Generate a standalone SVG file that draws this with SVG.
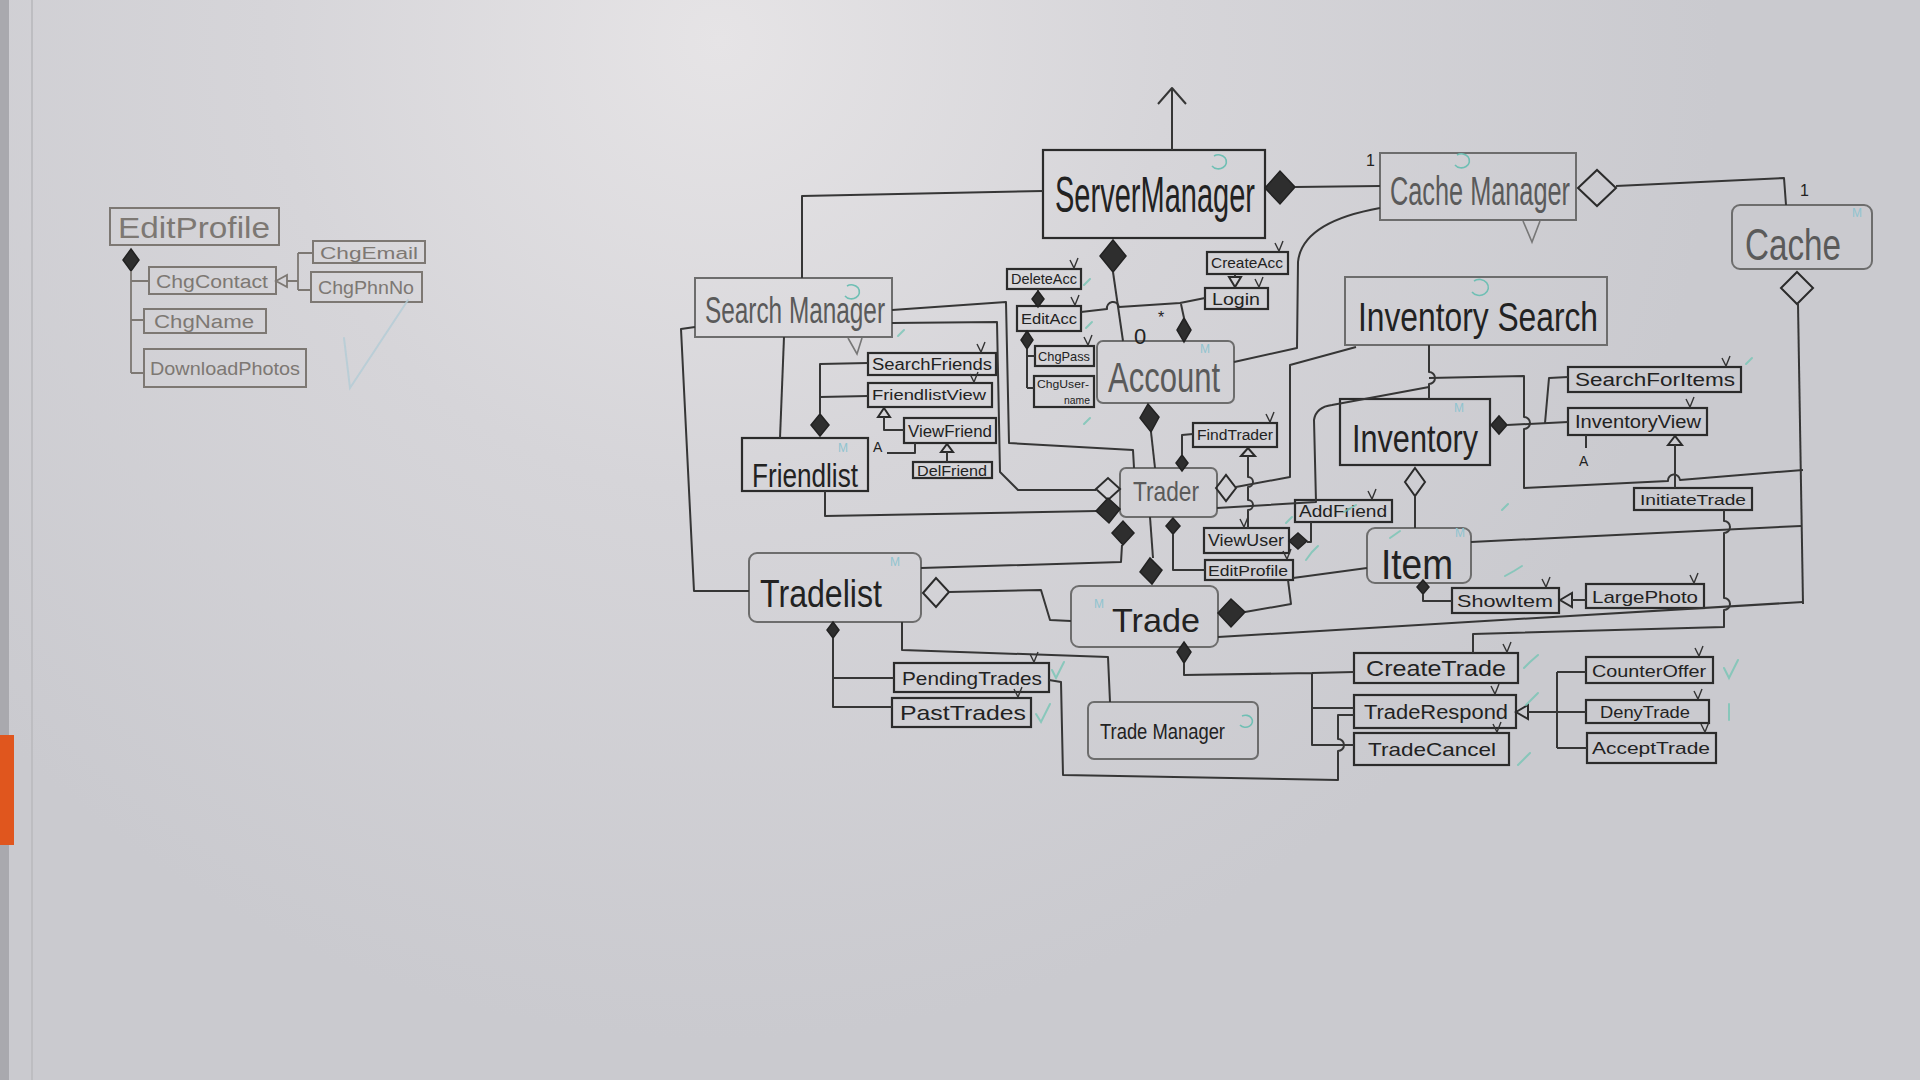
<svg xmlns="http://www.w3.org/2000/svg" width="1920" height="1080" viewBox="0 0 1920 1080">
<defs>
<radialGradient id="glow" cx="720" cy="40" r="1000" gradientUnits="userSpaceOnUse">
<stop offset="0" stop-color="#e6e4e6"/>
<stop offset="0.45" stop-color="#d6d5d9"/>
<stop offset="1" stop-color="#cacacf"/>
</radialGradient>
<style>
.b{fill:none;stroke:#2b2b2b;stroke-width:2.2}
.bg{fill:none;stroke:#6d6d6d;stroke-width:2}
.bl{fill:none;stroke:#7d7873;stroke-width:2}
.c{fill:none;stroke:#363636;stroke-width:2;stroke-linejoin:round}
.cl{fill:none;stroke:#7d7873;stroke-width:1.8}
.cg{fill:none;stroke:#777;stroke-width:1.6}
.fd{fill:#2e2e2e;stroke:#222;stroke-width:1.5}
.hd{fill:none;stroke:#2b2b2b;stroke-width:2}
.t{font-family:"Liberation Sans",Arial,sans-serif;fill:#222}
.tg{font-family:"Liberation Sans",Arial,sans-serif;fill:#5a5a5a}
.tl{font-family:"Liberation Sans",Arial,sans-serif;fill:#7d7873}
.m{font-family:"Liberation Sans",Arial,sans-serif;fill:#8fc4d0;font-size:12px}
.teal{fill:none;stroke:#6fbfb4;stroke-width:1.6}
.tick{fill:none;stroke:#333;stroke-width:1.4}
.chk{fill:none;stroke:#78c6b6;stroke-width:2;stroke-linecap:round;opacity:0.8}
</style>
</defs>
<rect x="0" y="0" width="1920" height="1080" fill="url(#glow)"/>
<rect x="0" y="0" width="9" height="1080" fill="#a9a9ae"/>
<line x1="32" y1="0" x2="32" y2="1080" stroke="#bdbdc1" stroke-width="2"/>
<rect x="0" y="735" width="14" height="110" fill="#e0561e"/>

<!-- Left cluster -->
<g id="editprofile-left">
<rect class="bl" x="110" y="208" width="169" height="37"/>
<text class="tl" x="118" y="238" font-size="30" textLength="152" lengthAdjust="spacingAndGlyphs">EditProfile</text>
</g>
<g id="chgcontact"><rect class="bl" x="149" y="267" width="127" height="27"/><text class="tl" x="156" y="288" font-size="18" textLength="112" lengthAdjust="spacingAndGlyphs">ChgContact</text></g>
<g id="chgemail"><rect class="bl" x="313" y="241" width="112" height="22"/><text class="tl" x="320" y="259" font-size="16" textLength="98" lengthAdjust="spacingAndGlyphs">ChgEmail</text></g>
<g id="chgphnno"><rect class="bl" x="311" y="272" width="111" height="30"/><text class="tl" x="318" y="294" font-size="18" textLength="96" lengthAdjust="spacingAndGlyphs">ChgPhnNo</text></g>
<g id="chgname"><rect class="bl" x="144" y="309" width="122" height="24"/><text class="tl" x="154" y="328" font-size="18" textLength="100" lengthAdjust="spacingAndGlyphs">ChgName</text></g>
<g id="downloadphotos"><rect class="bl" x="144" y="349" width="162" height="38"/><text class="tl" x="150" y="375" font-size="19" textLength="150" lengthAdjust="spacingAndGlyphs">DownloadPhotos</text></g>

<!-- Main nodes -->
<g id="servermanager"><rect class="b" x="1043" y="150" width="222" height="88"/><text class="t" x="1055" y="212" font-size="50" textLength="200" lengthAdjust="spacingAndGlyphs" fill="#1a1a1a">ServerManager</text><path class="teal" d="M1212,166 a8,7 0 1 0 2,-10"/></g>
<g id="cachemanager"><rect class="bg" x="1380" y="153" width="196" height="67"/><text class="tg" x="1390" y="205" font-size="40" textLength="180" lengthAdjust="spacingAndGlyphs">Cache Manager</text><path class="teal" d="M1455,165 a8,7 0 1 0 2,-10"/></g>
<g id="cache"><rect class="bg" x="1732" y="205" width="140" height="64" rx="8"/><text class="tg" x="1745" y="260" font-size="44" textLength="96" lengthAdjust="spacingAndGlyphs">Cache</text><text class="m" x="1852" y="217">M</text></g>
<g id="searchmanager"><rect class="bg" x="695" y="278" width="197" height="59"/><text class="tg" x="705" y="323" font-size="36" textLength="180" lengthAdjust="spacingAndGlyphs" fill="#4a4a4a">Search Manager</text><path class="teal" d="M845,296 a8,7 0 1 0 2,-10"/></g>
<g id="deleteacc"><rect class="b" x="1007" y="269" width="74" height="20"/><text class="t" x="1011" y="284" font-size="14" textLength="66" lengthAdjust="spacingAndGlyphs">DeleteAcc</text></g>
<g id="editacc"><rect class="b" x="1017" y="306" width="64" height="25"/><text class="t" x="1021" y="324" font-size="15" textLength="56" lengthAdjust="spacingAndGlyphs">EditAcc</text></g>
<g id="chgpass"><rect class="b" x="1035" y="346" width="59" height="20"/><text class="t" x="1038" y="361" font-size="13" textLength="52" lengthAdjust="spacingAndGlyphs">ChgPass</text></g>
<g id="chgusername"><rect class="b" x="1034" y="376" width="60" height="31"/><text class="t" x="1037" y="388" font-size="11" textLength="52" lengthAdjust="spacingAndGlyphs">ChgUser-</text><text class="t" x="1064" y="404" font-size="11" textLength="26" lengthAdjust="spacingAndGlyphs">name</text></g>
<g id="createacc"><rect class="b" x="1207" y="252" width="81" height="22"/><text class="t" x="1211" y="268" font-size="15" textLength="72" lengthAdjust="spacingAndGlyphs">CreateAcc</text></g>
<g id="login"><rect class="b" x="1205" y="288" width="63" height="21"/><text class="t" x="1212" y="305" font-size="17" textLength="48" lengthAdjust="spacingAndGlyphs">Login</text></g>
<g id="account"><rect class="bg" x="1097" y="341" width="137" height="62" rx="6"/><text class="tg" x="1108" y="392" font-size="42" textLength="112" lengthAdjust="spacingAndGlyphs" fill="#4a4a4a">Account</text><text class="m" x="1200" y="353">M</text></g>
<g id="inventorysearch"><rect class="bg" x="1345" y="277" width="262" height="68"/><text class="t" x="1358" y="331" font-size="40" textLength="240" lengthAdjust="spacingAndGlyphs" fill="#2a2a2a">Inventory Search</text><path class="teal" d="M1472,292 a9,8 0 1 0 2,-11"/></g>
<g id="searchfriends"><rect class="b" x="868" y="353" width="128" height="22"/><text class="t" x="872" y="370" font-size="16" textLength="120" lengthAdjust="spacingAndGlyphs">SearchFriends</text></g>
<g id="friendlistview"><rect class="b" x="868" y="383" width="124" height="24"/><text class="t" x="872" y="400" font-size="15" textLength="114" lengthAdjust="spacingAndGlyphs">FriendlistView</text></g>
<g id="viewfriend"><rect class="b" x="904" y="418" width="92" height="25"/><text class="t" x="908" y="437" font-size="17" textLength="84" lengthAdjust="spacingAndGlyphs">ViewFriend</text></g>
<g id="delfriend"><rect class="b" x="913" y="462" width="79" height="16"/><text class="t" x="917" y="476" font-size="14" textLength="70" lengthAdjust="spacingAndGlyphs">DelFriend</text></g>
<g id="friendlist"><rect class="b" x="742" y="438" width="126" height="53"/><text class="t" x="752" y="487" font-size="33" textLength="106" lengthAdjust="spacingAndGlyphs">Friendlist</text><text class="m" x="838" y="452">M</text></g>
<g id="findtrader"><rect class="b" x="1193" y="423" width="84" height="24"/><text class="t" x="1197" y="440" font-size="14" textLength="76" lengthAdjust="spacingAndGlyphs">FindTrader</text></g>
<g id="trader"><rect class="bg" x="1120" y="468" width="97" height="49" rx="6"/><text class="tg" x="1133" y="501" font-size="28" textLength="66" lengthAdjust="spacingAndGlyphs" fill="#777">Trader</text></g>
<g id="searchforitems"><rect class="b" x="1568" y="367" width="173" height="25"/><text class="t" x="1575" y="386" font-size="18" textLength="160" lengthAdjust="spacingAndGlyphs">SearchForItems</text></g>
<g id="inventory"><rect class="b" x="1340" y="399" width="150" height="66"/><text class="t" x="1352" y="452" font-size="38" textLength="126" lengthAdjust="spacingAndGlyphs" fill="#2a2a2a">Inventory</text><text class="m" x="1454" y="412">M</text></g>
<g id="inventoryview"><rect class="b" x="1568" y="408" width="139" height="27"/><text class="t" x="1575" y="428" font-size="18" textLength="126" lengthAdjust="spacingAndGlyphs">InventoryView</text></g>
<g id="initiatetrade"><rect class="b" x="1634" y="488" width="118" height="22"/><text class="t" x="1640" y="505" font-size="15" textLength="106" lengthAdjust="spacingAndGlyphs">InitiateTrade</text></g>
<g id="addfriend"><rect class="b" x="1295" y="500" width="97" height="22"/><text class="t" x="1299" y="517" font-size="16" textLength="88" lengthAdjust="spacingAndGlyphs">AddFriend</text></g>
<g id="viewuser"><rect class="b" x="1204" y="528" width="85" height="25"/><text class="t" x="1208" y="546" font-size="16" textLength="76" lengthAdjust="spacingAndGlyphs">ViewUser</text></g>
<g id="editprofile"><rect class="b" x="1205" y="560" width="88" height="20"/><text class="t" x="1208" y="576" font-size="14" textLength="80" lengthAdjust="spacingAndGlyphs">EditProfile</text></g>
<g id="item"><rect class="bg" x="1367" y="528" width="104" height="55" rx="8"/><text class="t" x="1381" y="579" font-size="42" textLength="72" lengthAdjust="spacingAndGlyphs" fill="#3a3a3a">Item</text><text class="m" x="1455" y="537" fill="#4a90c8">M</text></g>
<g id="showitem"><rect class="b" x="1452" y="588" width="107" height="25"/><text class="t" x="1457" y="607" font-size="17" textLength="96" lengthAdjust="spacingAndGlyphs">ShowItem</text></g>
<g id="largephoto"><rect class="b" x="1586" y="584" width="118" height="24"/><text class="t" x="1592" y="603" font-size="17" textLength="106" lengthAdjust="spacingAndGlyphs">LargePhoto</text></g>
<g id="tradelist"><rect class="bg" x="749" y="553" width="172" height="69" rx="8"/><text class="t" x="760" y="607" font-size="38" textLength="122" lengthAdjust="spacingAndGlyphs" fill="#333">Tradelist</text><text class="m" x="890" y="566">M</text></g>
<g id="trade"><rect class="bg" x="1071" y="586" width="147" height="61" rx="8"/><text class="t" x="1112" y="632" font-size="34" textLength="88" lengthAdjust="spacingAndGlyphs" fill="#333">Trade</text><text class="m" x="1094" y="608">M</text></g>
<g id="pendingtrades"><rect class="b" x="894" y="663" width="155" height="29"/><text class="t" x="902" y="685" font-size="19" textLength="140" lengthAdjust="spacingAndGlyphs">PendingTrades</text></g>
<g id="pasttrades"><rect class="b" x="892" y="698" width="139" height="29"/><text class="t" x="900" y="720" font-size="21" textLength="126" lengthAdjust="spacingAndGlyphs">PastTrades</text></g>
<g id="trademanager"><rect class="bg" x="1088" y="702" width="170" height="57" rx="6"/><text class="t" x="1100" y="739" font-size="22" textLength="125" lengthAdjust="spacingAndGlyphs" fill="#333">Trade Manager</text><path class="teal" d="M1240,725 a7,6 0 1 0 2,-9"/></g>
<g id="createtrade"><rect class="b" x="1354" y="653" width="164" height="30"/><text class="t" x="1366" y="676" font-size="22" textLength="140" lengthAdjust="spacingAndGlyphs" fill="#555">CreateTrade</text></g>
<g id="traderespond"><rect class="b" x="1354" y="695" width="162" height="33"/><text class="t" x="1364" y="719" font-size="20" textLength="144" lengthAdjust="spacingAndGlyphs" fill="#444">TradeRespond</text></g>
<g id="tradecancel"><rect class="b" x="1354" y="733" width="155" height="32"/><text class="t" x="1368" y="756" font-size="19" textLength="128" lengthAdjust="spacingAndGlyphs" fill="#555">TradeCancel</text></g>
<g id="counteroffer"><rect class="b" x="1586" y="657" width="127" height="26"/><text class="t" x="1592" y="677" font-size="17" textLength="114" lengthAdjust="spacingAndGlyphs">CounterOffer</text></g>
<g id="denytrade"><rect class="b" x="1586" y="700" width="123" height="23"/><text class="t" x="1600" y="718" font-size="16" textLength="90" lengthAdjust="spacingAndGlyphs">DenyTrade</text></g>
<g id="accepttrade"><rect class="b" x="1587" y="733" width="129" height="30"/><text class="t" x="1592" y="754" font-size="17" textLength="118" lengthAdjust="spacingAndGlyphs" fill="#666">AcceptTrade</text></g>

<!-- Connectors -->
<g id="connectors">
<polygon class="fd" points="131,249 139,260 131,271 123,260"/>
<path class="cl" d="M131,271 V373 M131,281 H149 M131,320 H144 M131,373 H144"/>
<polygon class="cl" points="276,281 287,275 287,287"/>
<path class="cl" d="M287,281 H298 M298,253 V290 M298,253 H313 M298,290 H311"/>

<path class="c" d="M1172,150 V88 M1158,104 L1172,88 L1186,104"/>
<polygon class="fd" points="1265,188 1280,171 1295,187 1280,204"/>
<path class="c" d="M1295,187 L1380,186"/>
<text class="t" x="1366" y="166" font-size="16">1</text>
<polygon class="hd" points="1578,188 1597,170 1616,188 1597,206"/>
<path class="c" d="M1616,186 L1784,178 L1786,205"/>
<text class="t" x="1800" y="196" font-size="16">1</text>
<path class="cg" d="M1523,221 L1532,242 L1540,221"/>
<polygon class="hd" points="1797,272 1813,288 1797,304 1781,288"/>
<path class="c" d="M1798,304 L1803,604"/>
<path class="c" d="M802,278 V196 L1043,191"/>
<path class="c" d="M695,327 L681,329 L694,591 L749,591"/>
<path class="c" d="M784,337 L780,438"/>
<path class="cg" d="M848,338 L857,354 L862,338"/>
<path class="c" d="M892,310 L1006,302 L1009,443 L1133,450 L1134,468"/>
<path class="c" d="M892,323 L997,322 L1000,472 L1018,490 L1096,490"/>
<polygon class="hd" points="1096,489 1108,478 1120,489 1108,500"/>
<path class="c" d="M825,491 V516 L1097,511"/>
<polygon class="fd" points="1096,511 1108,498 1120,509 1109,523"/>
<polygon class="fd" points="811,425 820,414 829,425 820,436"/>
<path class="c" d="M820,414 V364 L868,363 M820,397 L868,396"/>
<polygon class="hd" points="878,417 884,408 890,417"/>
<path class="c" d="M884,417 V430 L904,430"/>
<text class="t" x="873" y="452" font-size="14">A</text>
<path class="c" d="M887,453 L915,453 V443"/>
<polygon class="hd" points="941,452 947,444 953,452"/>
<path class="c" d="M947,452 V462"/>
<path class="c" d="M921,568 L1121,562 L1122,545"/>
<polygon class="fd" points="1112,533 1123,521 1134,533 1123,545"/>
<polygon class="fd" points="1113,240 1126,256 1113,272 1100,256"/>
<path class="c" d="M1113,272 L1123,341"/>
<polygon class="fd" points="1038,291 1044,299 1038,307 1032,299"/>
<path class="c" d="M1038,289 V291"/>
<polygon class="fd" points="1027,331 1033,340 1027,349 1021,340"/>
<path class="c" d="M1027,349 V388 M1027,356 L1035,356 M1027,388 L1034,388"/>
<path class="c" d="M1081,312 L1107,309 A6,6 0 0 1 1119,307 L1180,303 L1205,298"/>
<polygon class="fd" points="1184,318 1191,330 1184,342 1177,330"/>
<path class="c" d="M1181,304 L1184,318"/>
<text class="t" x="1134" y="344" font-size="22" fill="#333">0</text>
<text class="t" x="1158" y="323" font-size="16" fill="#333">*</text>
<polygon class="hd" points="1229,277 1241,277 1235,287"/>
<path class="c" d="M1235,274 V277"/>
<path class="c" d="M1234,362 L1297,348 L1298,262 Q1302,222 1380,208"/>
<polygon class="fd" points="1148,404 1159,417 1151,432 1140,418"/>
<path class="c" d="M1151,432 L1155,468"/>
<polygon class="fd" points="1182,455 1188,463 1182,471 1176,463"/>
<path class="c" d="M1182,455 V435 L1193,434"/>
<polygon class="hd" points="1241,456 1248,448 1255,456"/>
<path class="c" d="M1248,456 V477 A5,5 0 0 1 1248,487 V500 A5,5 0 0 1 1248,510 V528"/>
<polygon class="hd" points="1216,488 1226,475 1236,488 1226,501"/>
<path class="c" d="M1236,487 L1290,477 L1290,365 L1356,347"/>
<path class="c" d="M1217,508 L1316,502 L1314,420 Q1316,407 1332,405 L1429,387"/>
<path class="c" d="M1429,345 V372 A6,6 0 0 1 1429,384 V399"/>
<path class="c" d="M1429,378 L1524,376 V417 A6,6 0 0 1 1524,429 V488 L1668,481 A6,6 0 0 1 1680,480 L1803,470"/>
<polygon class="fd" points="1491,425 1499,416 1507,425 1499,434"/>
<path class="c" d="M1507,425 L1568,422 M1545,423 L1549,378 L1568,377"/>
<path class="c" d="M1586,435 V448"/>
<text class="t" x="1579" y="466" font-size="14">A</text>
<polygon class="hd" points="1668,445 1675,436 1682,445"/>
<path class="c" d="M1675,445 V488"/>
<path class="c" d="M1724,510 V521 A6,6 0 0 1 1724,533 V598 A6,6 0 0 1 1724,610 V627 L1473,634 V653"/>
<path class="c" d="M1471,542 L1801,526"/>
<polygon class="hd" points="1415,468 1425,482 1415,496 1405,482"/>
<path class="c" d="M1415,496 V528"/>
<polygon class="fd" points="1423,580 1429,587 1423,594 1417,587"/>
<path class="c" d="M1423,594 V601 L1452,601"/>
<polygon class="hd" points="1560,600 1572,593 1572,607"/>
<path class="c" d="M1572,600 L1586,600"/>
<polygon class="fd" points="1289,541 1298,533 1307,541 1298,549"/>
<path class="c" d="M1307,542 L1311,542 V522"/>
<polygon class="fd" points="1173,518 1180,526 1173,534 1166,526"/>
<path class="c" d="M1173,534 V570 L1205,570"/>
<path class="c" d="M1150,517 L1153,558"/>
<polygon class="fd" points="1140,572 1150,558 1162,570 1152,584"/>
<path class="c" d="M1293,578 L1367,568"/>
<path class="c" d="M1288,580 L1291,604 L1245,612"/>
<polygon class="fd" points="1218,613 1231,599 1245,612 1231,627"/>
<path class="c" d="M1218,637 L1803,602"/>
<polygon class="hd" points="923,593 936,578 949,592 936,607"/>
<path class="c" d="M949,592 L1041,590 L1050,620 L1071,621"/>
<polygon class="fd" points="833,622 839,630 833,638 827,630"/>
<path class="c" d="M833,638 V707 L892,707 M833,678 L894,678"/>
<path class="c" d="M902,622 V650 L1108,657 L1110,702"/>
<polygon class="fd" points="1184,642 1191,652 1184,663 1177,652"/>
<path class="c" d="M1184,663 V675 L1312,673 V745 L1354,745 M1312,708 L1354,708 M1312,673 L1354,672"/>
<path class="c" d="M1049,680 L1061,682 L1063,775 L1338,780 V751 A6,6 0 0 0 1338,739 V715 L1354,715"/>
<polygon class="hd" points="1516,712 1528,705 1528,719"/>
<path class="c" d="M1528,712 L1557,712 M1557,672 V748 M1557,672 L1586,672 M1557,712 L1586,712 M1557,748 L1587,748"/>
</g>

<g id="ticks" class="tick">
<path d="M1070,260 L1074,268 L1078,258"/>
<path d="M1071,297 L1075,305 L1079,295"/>
<path d="M1084,337 L1088,345 L1092,335"/>
<path d="M1275,243 L1279,251 L1283,241"/>
<path d="M1255,279 L1259,287 L1263,277"/>
<path d="M977,344 L981,352 L985,342"/>
<path d="M970,374 L974,382 L978,372"/>
<path d="M1266,414 L1270,422 L1274,412"/>
<path d="M1240,519 L1244,527 L1248,517"/>
<path d="M1368,491 L1372,499 L1376,489"/>
<path d="M1722,358 L1726,366 L1730,356"/>
<path d="M1686,399 L1690,407 L1694,397"/>
<path d="M1542,579 L1546,587 L1550,577"/>
<path d="M1690,575 L1694,583 L1698,573"/>
<path d="M1030,654 L1034,662 L1038,652"/>
<path d="M1014,689 L1018,697 L1022,687"/>
<path d="M1503,644 L1507,652 L1511,642"/>
<path d="M1491,686 L1495,694 L1499,684"/>
<path d="M1493,724 L1497,732 L1501,722"/>
<path d="M1695,648 L1699,656 L1703,646"/>
<path d="M1694,691 L1698,699 L1702,689"/>
<path d="M1701,724 L1705,732 L1709,722"/>
<path d="M1283,551 L1287,559 L1291,549"/>
</g>
<g id="checks" class="chk">
<path d="M344,338 L350,388 L408,300" stroke="#b3ccd6"/>
<path d="M1036,714 L1041,722 L1050,704"/>
<path d="M1052,670 L1056,678 L1064,662"/>
<path d="M1524,668 L1530,662 L1538,655"/>
<path d="M1526,705 L1532,699 L1538,693"/>
<path d="M1518,765 L1524,759 L1530,753"/>
<path d="M1724,668 L1729,678 L1738,660"/>
<path d="M1729,704 L1729,720"/>
<path d="M1505,576 L1514,571 L1522,566"/>
<path d="M1306,560 L1312,552 L1318,546"/>
<path d="M1286,523 L1292,517"/>
<path d="M1344,512 L1356,505"/>
<path d="M1390,538 L1400,531"/>
<path d="M1746,364 L1752,358"/>
<path d="M1084,285 L1090,279"/>
<path d="M1086,328 L1092,322"/>
<path d="M1084,424 L1090,418"/>
<path d="M1502,510 L1508,504"/>
<path d="M898,336 L904,330"/>
</g>
</svg>
